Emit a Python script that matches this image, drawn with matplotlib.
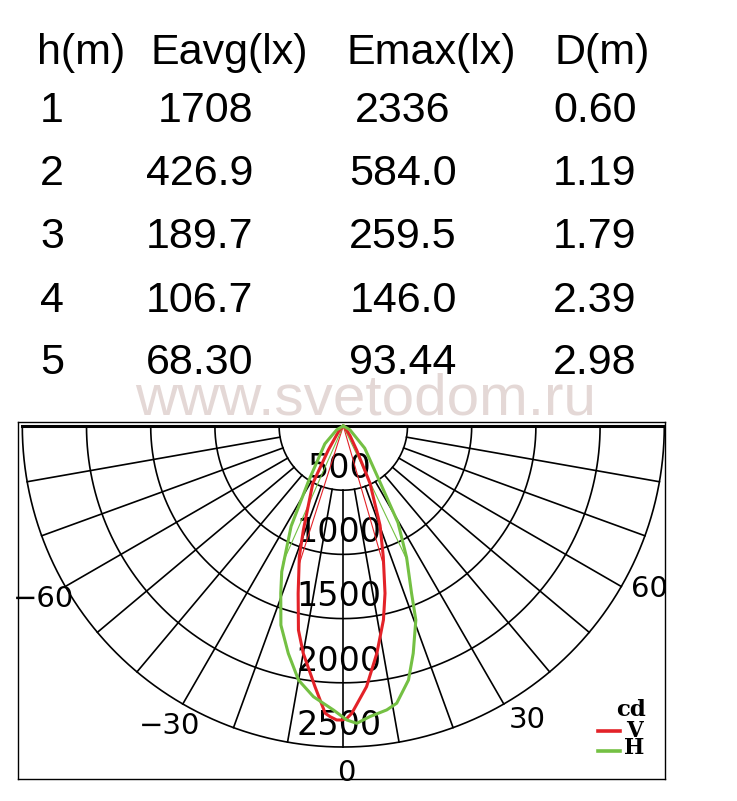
import numpy as np
import matplotlib
matplotlib.use("Agg")
import matplotlib.pyplot as plt

W, H = 737, 801

# illuminance table
headers = ["h(m)", "Eavg(lx)", "Emax(lx)", "D(m)"]
heights = ["1", "2", "3", "4", "5"]
e_avg = ["1708", "426.9", "189.7", "106.7", "68.30"]
e_max = ["2336", "584.0", "259.5", "146.0", "93.44"]
diam = ["0.60", "1.19", "1.79", "2.39", "2.98"]

# intensity curves (angle deg, cd)
v_angles = [-90, -60, -40, -32, -28, -21, -18.6, -15.1, -12.4, -10, -6.2, -3.6, -2.6, -1.3,
            -0.3, 0.7, 1.7, 5.1, 8.4, 11.7, 14, 17, 20.3, 25, 29, 35, 45, 60, 90]
v_cd = [0, 5, 60, 220, 506, 868, 1074, 1350, 1627, 1797, 2042, 2242, 2266, 2290,
        2290, 2277, 2238, 2038, 1789, 1542, 1343, 1065, 825, 492, 214, 90, 20, 5, 0]
h_angles = [-90, -60, -46, -32.1, -27.5, -22.9, -20.5, -17.4, -13.6, -10, -6.3, -2, 0.7,
            2.6, 5.2, 8.7, 10.9, 14.4, 17.1, 20.5, 22.2, 25.7, 29.5, 33, 44, 60, 90]
h_cd = [0, 60, 200, 515, 880, 1232, 1391, 1625, 1822, 2009, 2121, 2213, 2290,
        2318, 2273, 2237, 2199, 2042, 1852, 1613, 1407, 1137, 865, 532, 240, 60, 0]

ring_values = [500, 1000, 1500, 2000, 2500]
spoke_angles = list(range(-80, 90, 10))
angle_labels = [-60, -30, 0, 30, 60]

RED = "#e32228"
GREEN = "#74c043"

# pixel geometry of the diagram
CX, CY = 343.3, 426.0
PX = 500 / 64.2  # cd per pixel


def to_xy(ang, r):
    t = np.radians(np.asarray(ang, dtype=float))
    r = np.asarray(r, dtype=float)
    return r * np.sin(t), -r * np.cos(t)


def pix(X, Y):
    return (X - CX) * PX, -(Y - CY) * PX


fig = plt.figure(figsize=(W / 100, H / 100), dpi=100)

# --- table text ---
tfont = dict(family="Liberation Sans", fontsize=31, va="baseline")
header_x = [37, 150, 346, 555]
for x, s in zip(header_x, headers):
    fig.text(x / W, 1 - 64 / H, s, ha="left", **tfont)

row_y = [122, 185, 248, 312, 374]
for i, y in enumerate(row_y):
    fig.text(40 / W, 1 - y / H, heights[i], ha="left", **tfont)
    fig.text(253 / W, 1 - y / H, e_avg[i], ha="right", **tfont)
    fig.text(403 / W, 1 - y / H, e_max[i], ha="center", **tfont)
    fig.text(595 / W, 1 - y / H, diam[i], ha="center", **tfont)

fig.text(366 / W, 1 - 414 / H, "www.svetodom.ru", ha="center", va="baseline",
         family="Liberation Sans", fontsize=42, color="#e4d8d6")

# --- polar diagram ---
L, R, T, B = 18, 665, 422, 779
ax = fig.add_axes([L / W, 1 - B / H, (R - L) / W, (B - T) / H])
x0, y0 = pix(L, B)
x1, y1 = pix(R, T)
ax.set_xlim(x0, x1)
ax.set_ylim(y0, y1)
ax.set_xticks([])
ax.set_yticks([])
for sp in ax.spines.values():
    sp.set_linewidth(1.0)

t = np.linspace(-90, 90, 361)
for r in ring_values:
    ax.plot(*to_xy(t, np.full_like(t, r)), color="black", lw=1.2, zorder=1)
for a in spoke_angles:
    ax.plot(*to_xy([a, a], [ring_values[0], ring_values[-1]]), color="black", lw=1.2, zorder=1)
ax.plot([-ring_values[-1], ring_values[-1]], [0, 0], color="black", lw=2.2, zorder=1)

for r in ring_values:
    ax.text(-35, -(r - 95), str(r), ha="center", va="baseline",
            family="DejaVu Sans", fontsize=24, zorder=2)

for a in angle_labels:
    # the right-hand labels sit a little further round than the left ones
    lx, ly = to_xy(a + (2 if a > 0 else 0), 2700)
    if a == 0:
        lx += 25
    ax.text(lx, ly, str(a).replace("-", "\u2212"), ha="center", va="center",
            family="DejaVu Sans", fontsize=21, zorder=2)


def half_angle_lines(angles, cd, color):
    angles = np.asarray(angles, dtype=float)
    cd = np.asarray(cd, dtype=float)
    k = int(np.argmax(cd))
    half = cd[k] / 2
    left = np.interp(half, cd[:k + 1], angles[:k + 1])
    right = np.interp(half, cd[k:][::-1], angles[k:][::-1])
    for a in (left, right):
        xs, ys = to_xy([a, a], [0, half])
        ax.plot(xs, ys, color=color, lw=0.8, zorder=3)


half_angle_lines(v_angles, v_cd, RED)
half_angle_lines(h_angles, h_cd, GREEN)

ax.plot(*to_xy(v_angles, v_cd), color=RED, lw=2.2, zorder=4)
ax.plot(*to_xy(h_angles, h_cd), color=GREEN, lw=2.2, zorder=4)

# legend
lfont = dict(family="DejaVu Serif", fontweight="bold", ha="center", va="baseline")
ax.text(*pix(631, 716), "cd", fontsize=16.5, **lfont)
ax.text(*pix(634, 737), "V", fontsize=15.5, **lfont)
ax.text(*pix(634, 754), "H", fontsize=15.5, **lfont)
ax.plot(*zip(pix(598, 731), pix(620, 731)), color=RED, lw=2.6)
ax.plot(*zip(pix(598, 751), pix(620, 751)), color=GREEN, lw=2.6)

fig.savefig("out.png", dpi=100)
